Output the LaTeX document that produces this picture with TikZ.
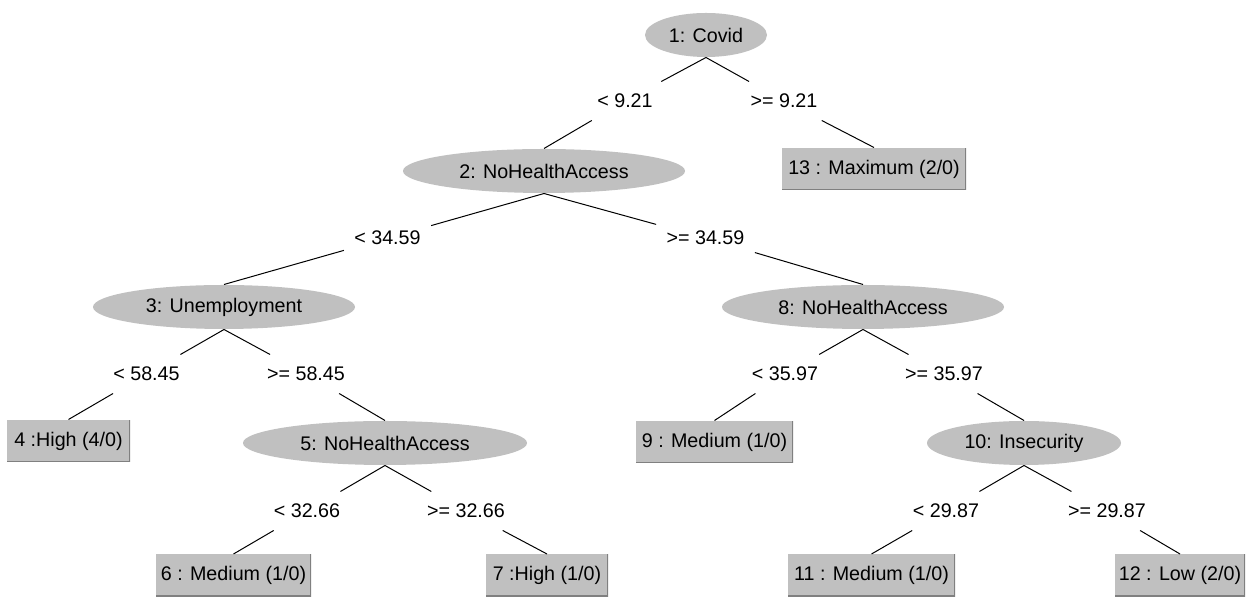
\documentclass[tikz,border=0pt]{standalone}
\usepackage{fontspec}
\setmainfont{Liberation Sans}
\usetikzlibrary{shapes.geometric}
\definecolor{wekagray}{HTML}{C0C0C0}
\definecolor{wekadark}{HTML}{808080}
\begin{document}
\begin{tikzpicture}[x=0.5pt,y=-0.5pt,font=\fontsize{9.85}{11}\selectfont,
  attr/.style={ellipse,fill=wekagray,inner sep=0pt,minimum height=22pt},
  leaf/.style={rectangle,fill=wekagray,inner sep=0pt,minimum height=21pt,
    path picture={\draw[wekadark,line width=1pt]
      (path picture bounding box.north east) -- (path picture bounding box.south east)
      -- (path picture bounding box.south west);}},
  cond/.style={inner xsep=5pt,inner ysep=6pt,text height=7pt,text depth=0pt},
  every path/.style={line width=0.5pt}]
\useasboundingbox (0,0) rectangle (1249,597);
\path
node[attr,minimum width=61pt] (n1) at (706,35) {1: Covid}
node[attr,minimum width=141pt] (n2) at (544,171) {2: NoHealthAccess}
node[leaf,minimum width=92pt] (n13) at (874,169) {13 : Maximum (2/0)}
node[attr,minimum width=131pt] (n3) at (224,307) {3: Unemployment}
node[attr,minimum width=141pt] (n8) at (863,307) {8: NoHealthAccess}
node[leaf,minimum width=61.5pt] (n4) at (68.5,441) {4 :High (4/0)}
node[attr,minimum width=142pt] (n5) at (385,443) {5: NoHealthAccess}
node[leaf,minimum width=78.5pt] (n9) at (714.5,442) {9 : Medium (1/0)}
node[attr,minimum width=97pt] (n10) at (1024,443) {10: Insecurity}
node[leaf,minimum width=77.5pt] (n6) at (233.5,575.5) {6 : Medium (1/0)}
node[leaf,minimum width=61pt] (n7) at (547,575.5) {7 :High (1/0)}
node[leaf,minimum width=83.5pt] (n11) at (871.5,575.5) {11 : Medium (1/0)}
node[leaf,minimum width=65pt] (n12) at (1180,575.5) {12 : Low (2/0)};
\path
node[cond] (c1a) at (625,101) {< 9.21}
node[cond] (c1b) at (784,101) {>= 9.21}
node[cond] (c2a) at (387.5,238) {< 34.59}
node[cond] (c2b) at (705.5,238) {>= 34.59}
node[cond] (c3a) at (146.5,374) {< 58.45}
node[cond] (c3b) at (306,374) {>= 58.45}
node[cond] (c8a) at (785,374) {< 35.97}
node[cond] (c8b) at (944,374) {>= 35.97}
node[cond] (c5a) at (307,511) {< 32.66}
node[cond] (c5b) at (466,511) {>= 32.66}
node[cond] (c10a) at (946,511) {< 29.87}
node[cond] (c10b) at (1107,511) {>= 29.87};
\draw (n1.south) -- (c1a) (c1a) -- (n2.north);
\draw (n1.south) -- (c1b) (c1b) -- (n13.north);
\draw (n2.south) -- (c2a) (c2a) -- (n3.north);
\draw (n2.south) -- (c2b) (c2b) -- (n8.north);
\draw (n3.south) -- (c3a) (c3a) -- (n4.north);
\draw (n3.south) -- (c3b) (c3b) -- (n5.north);
\draw (n8.south) -- (c8a) (c8a) -- (n9.north);
\draw (n8.south) -- (c8b) (c8b) -- (n10.north);
\draw (n5.south) -- (c5a) (c5a) -- (n6.north);
\draw (n5.south) -- (c5b) (c5b) -- (n7.north);
\draw (n10.south) -- (c10a) (c10a) -- (n11.north);
\draw (n10.south) -- (c10b) (c10b) -- (n12.north);
\end{tikzpicture}
\end{document}
